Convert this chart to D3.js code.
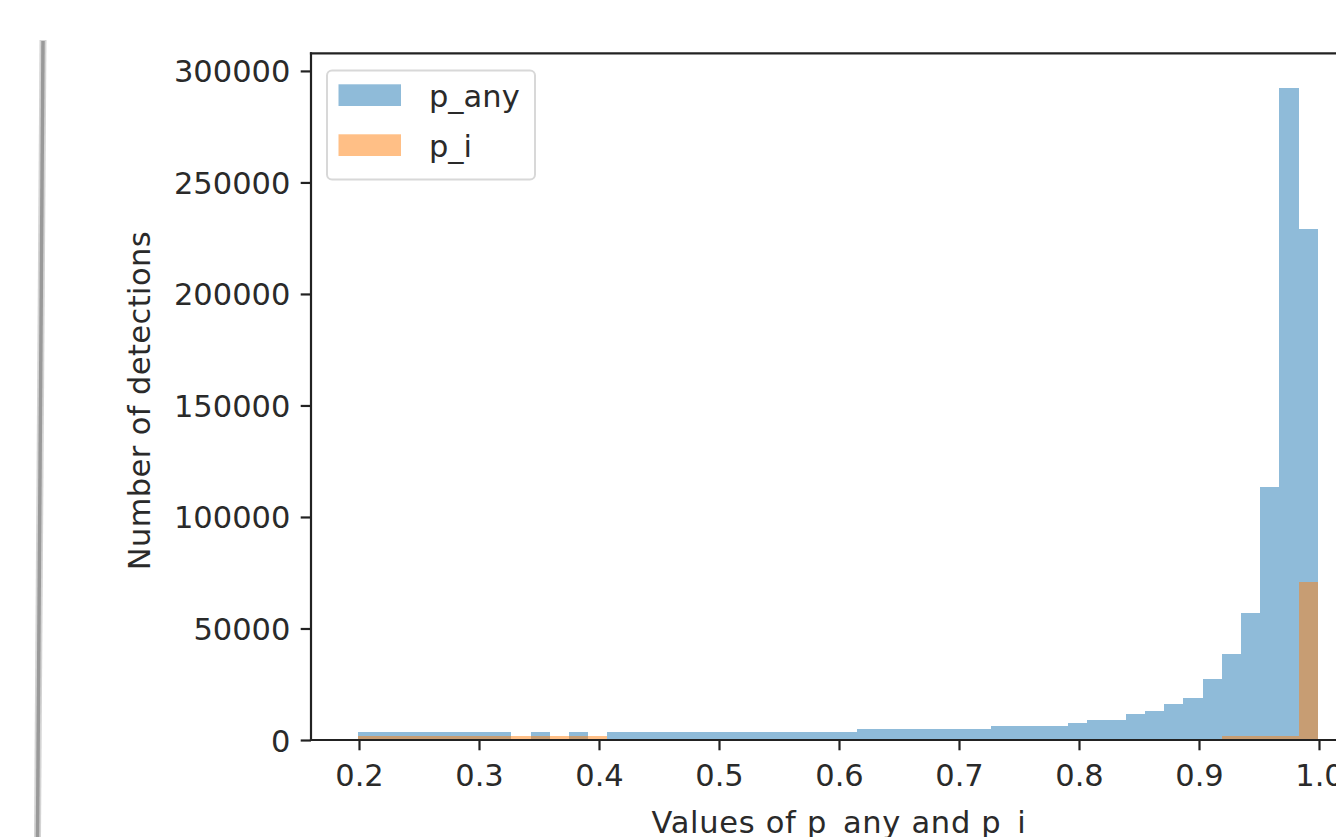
<!DOCTYPE html>
<html>
<head>
<meta charset="utf-8">
<script src="https://cdn.jsdelivr.net/npm/d3@7"></script>
<style>
  body { margin: 0; background: #fff; }
  svg { display: block; }
  text { font-family: "DejaVu Sans", sans-serif; fill: #2a2a2a; }
</style>
</head>
<body>
<script>
'use strict';

// bin edges of the histogram (50 bins)
var binEdges = [0.199, 0.215, 0.231, 0.247, 0.263, 0.279, 0.295, 0.311, 0.327, 0.343,
                0.359, 0.375, 0.391, 0.407, 0.423, 0.439, 0.455, 0.471, 0.487, 0.503,
                0.519, 0.535, 0.551, 0.567, 0.583, 0.599, 0.615, 0.631, 0.647, 0.663,
                0.679, 0.695, 0.711, 0.727, 0.743, 0.759, 0.775, 0.791, 0.807, 0.823,
                0.839, 0.855, 0.871, 0.887, 0.903, 0.919, 0.935, 0.951, 0.967, 0.983,
                0.999];

// counts per bin
var pAny = [3400, 3400, 3400, 3400, 3400, 3400, 3400, 3400, 0, 3400,
            0, 3400, 0, 3400, 3400, 3400, 3400, 3400, 3400, 3400,
            3400, 3400, 3400, 3400, 3400, 3400, 4800, 4800, 4800, 4800,
            4800, 4800, 4800, 6300, 6300, 6300, 6300, 7750, 8960, 8960,
            11600, 13100, 16100, 19000, 27200, 38500, 56800, 113400, 292300, 229000];

var pI = [1800, 1800, 1800, 1800, 1800, 1800, 1800, 1800, 1800, 1800,
          1800, 1800, 1800, 0, 0, 0, 0, 0, 0, 0,
          0, 0, 0, 0, 0, 0, 0, 0, 0, 0,
          0, 0, 0, 0, 0, 0, 0, 0, 0, 0,
          0, 0, 0, 0, 0, 1800, 1800, 1800, 1800, 70800];

var xTicks = [0.2, 0.3, 0.4, 0.5, 0.6, 0.7, 0.8, 0.9, 1.0];
var yTicks = [0, 50000, 100000, 150000, 200000, 250000, 300000];

var seriesNames = ["p_any", "p_i"];
var seriesColors = ["rgba(31,119,180,0.5)", "rgba(255,127,14,0.5)"];

var width = 1336,
    height = 837,
    plotLeft = 311,
    plotRight = 1367,
    plotTop = 53.3,
    plotBottom = 740,
    fontSize = 30.5,
    tick = 10.3;

var svg = d3.select("body").append("svg")
  .attr("width", width)
  .attr("height", height);

// notebook cell border on the left
svg.append("line")
  .attr("x1", 43).attr("y1", 40).attr("x2", 37.5).attr("y2", 837)
  .attr("stroke", "#d4d4d4").attr("stroke-width", 7);
svg.append("line")
  .attr("x1", 43).attr("y1", 41).attr("x2", 37.5).attr("y2", 837)
  .attr("stroke", "#999").attr("stroke-width", 3.5);

var x = d3.scaleLinear()
  .domain([0.16, 1.04])
  .range([plotLeft, plotRight]);

var y = d3.scaleLinear()
  .domain([0, 307900])
  .range([plotBottom, plotTop]);

// bars, p_any first then p_i on top
[pAny, pI].forEach(function(counts, k) {
  svg.append("g")
    .attr("shape-rendering", "crispEdges")
    .selectAll("rect")
    .data(counts)
    .enter().append("rect")
    .attr("x", function(d, i) { return x(binEdges[i]); })
    .attr("width", function(d, i) { return x(binEdges[i + 1]) - x(binEdges[i]); })
    .attr("y", function(d) { return y(d); })
    .attr("height", function(d) { return y(0) - y(d); })
    .attr("fill", seriesColors[k]);
});

// axes
var xAxis = svg.append("g")
  .attr("transform", "translate(0," + plotBottom + ")")
  .call(d3.axisBottom(x).tickValues(xTicks).tickFormat(d3.format(".1f"))
    .tickSize(tick).tickPadding(10).tickSizeOuter(0));

var yAxis = svg.append("g")
  .attr("transform", "translate(" + plotLeft + ",0)")
  .call(d3.axisLeft(y).tickValues(yTicks).tickFormat(d3.format("d"))
    .tickSize(tick).tickPadding(10.3).tickSizeOuter(0));

[xAxis, yAxis].forEach(function(a) {
  a.select(".domain").remove();
  a.selectAll(".tick line").attr("stroke", "#222").attr("stroke-width", 2.2);
  a.selectAll(".tick text")
    .attr("font-size", fontSize)
    .attr("font-family", "DejaVu Sans")
    .attr("fill", "#2a2a2a");
});
xAxis.selectAll(".tick text").attr("dy", null).attr("y", 46);
yAxis.selectAll(".tick text").attr("dy", null).attr("y", 11);

// spines
var spines = [[plotLeft, plotTop, plotLeft, plotBottom],
              [plotLeft, plotBottom, plotRight, plotBottom],
              [plotLeft, plotTop, plotRight, plotTop]];
svg.selectAll("line.spine")
  .data(spines)
  .enter().append("line")
  .attr("class", "spine")
  .attr("x1", function(d) { return d[0]; })
  .attr("y1", function(d) { return d[1]; })
  .attr("x2", function(d) { return d[2]; })
  .attr("y2", function(d) { return d[3]; })
  .attr("stroke", "#222")
  .attr("stroke-width", 2.2)
  .attr("stroke-linecap", "square");

// axis labels
svg.append("text")
  .attr("x", (plotLeft + plotRight) / 2)
  .attr("y", 832.5)
  .attr("text-anchor", "middle")
  .attr("font-size", fontSize)
  .attr("letter-spacing", 0.7)
  .text("Values of p_any and p_i");

svg.append("text")
  .attr("transform", "translate(150," + ((plotTop + plotBottom) / 2 + 4) + ") rotate(-90)")
  .attr("text-anchor", "middle")
  .attr("font-size", fontSize)
  .attr("letter-spacing", 0.4)
  .text("Number of detections");

// legend
var legend = svg.append("g");
legend.append("rect")
  .attr("x", 327).attr("y", 70.5)
  .attr("width", 208).attr("height", 109)
  .attr("rx", 5)
  .attr("fill", "#fff")
  .attr("stroke", "#d8d8d8")
  .attr("stroke-width", 2);

var item = legend.selectAll("g.item")
  .data(seriesNames)
  .enter().append("g")
  .attr("class", "item")
  .attr("transform", function(d, i) { return "translate(0," + (i * 50) + ")"; });

item.append("rect")
  .attr("x", 338.5).attr("y", 84.3)
  .attr("width", 62.5).attr("height", 21.7)
  .attr("fill", function(d, i) { return seriesColors[i]; });

item.append("text")
  .attr("x", 429)
  .attr("y", 107)
  .attr("font-size", fontSize)
  .text(function(d) { return d; });
</script>
</body>
</html>
